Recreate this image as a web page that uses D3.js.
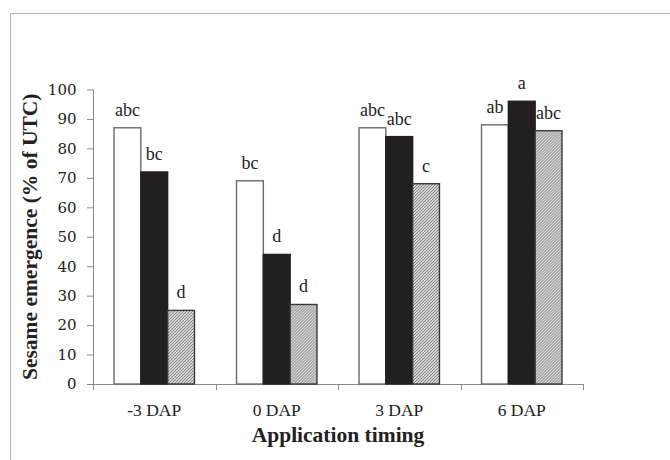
<!DOCTYPE html>
<html>
<head>
<meta charset="utf-8">
<script src="https://cdn.jsdelivr.net/npm/d3@7"></script>
<style>
  body { margin: 0; background: #fff; }
  svg { display: block; }
</style>
</head>
<body>
<svg id="chart" width="670" height="460"></svg>
<script>
// data
var categories = ["-3 DAP", "0 DAP", "3 DAP", "6 DAP"];
var series = ["s1", "s2", "s3"];
var valuesWhite = [87, 69, 87, 88];
var valuesBlack = [72, 44, 84, 96];
var valuesHatch = [25, 27, 68, 86];
var lettersWhite = ["abc", "bc", "abc", "ab"];
var lettersBlack = ["bc", "d", "abc", "a"];
var lettersHatch = ["d", "d", "c", "abc"];
var yTicks = [0, 10, 20, 30, 40, 50, 60, 70, 80, 90, 100];

var svg = d3.select("#chart"),
    width = +svg.attr("width"),
    height = +svg.attr("height");

var plotLeft = 93, plotRight = 583, plotTop = 89.5, plotBottom = 384;

// pattern for the hatched bars
var defs = svg.append("defs");
var pat = defs.append("pattern")
    .attr("id", "hatch")
    .attr("patternUnits", "userSpaceOnUse")
    .attr("width", 3)
    .attr("height", 3);
pat.append("rect").attr("width", 3).attr("height", 3).attr("fill", "#d2d2d2");
pat.append("path")
    .attr("d", "M-1,1 l2,-2 M0,3 l3,-3 M2,4 l2,-2")
    .attr("stroke", "#6e6e6e")
    .attr("stroke-width", 0.75);

// outer frame (cut at right/bottom)
svg.append("path")
    .attr("d", "M10.5,460 V13.5 H670")
    .attr("fill", "none")
    .attr("stroke", "#b4b4b4")
    .attr("stroke-width", 1);

var y = d3.scaleLinear().domain([0, 100]).range([plotBottom, plotTop]);

var x0 = d3.scaleBand().domain(categories).range([plotLeft, plotRight]).padding(0);
var pad = x0.bandwidth() * 0.1716;
var x1 = d3.scaleBand().domain(series).range([pad, x0.bandwidth() - pad]).padding(0);

// rows for every group
var rows = categories.map(function(c, i) {
  return {
    cat: c,
    bars: [
      {key: "s1", value: valuesWhite[i], letter: lettersWhite[i]},
      {key: "s2", value: valuesBlack[i], letter: lettersBlack[i]},
      {key: "s3", value: valuesHatch[i], letter: lettersHatch[i]}
    ]
  };
});

var fills = {s1: "#ffffff", s2: "#231f20", s3: "url(#hatch)"};
var strokes = {s1: "#6a6a6a", s2: "#231f20", s3: "#3a3a3a"};

// y axis
var yAxis = svg.append("g")
    .attr("transform", "translate(" + plotLeft + ",0)")
    .call(d3.axisLeft(y).tickValues(yTicks).tickSize(6).tickPadding(10.5));
yAxis.select(".domain").attr("stroke", "#8c8c8c").attr("d", "M0.5," + plotTop + "V" + (plotBottom + 5));
yAxis.selectAll(".tick line").attr("stroke", "#8c8c8c");
yAxis.selectAll(".tick text")
    .style("font-family", "'DejaVu Serif', serif")
    .style("font-size", "15px")
    .attr("fill", "#222");

// x axis
var xAxis = svg.append("g")
    .attr("transform", "translate(0," + plotBottom + ")")
    .call(d3.axisBottom(x0).tickSize(0));
xAxis.select(".domain").attr("stroke", "#8c8c8c").attr("d", "M" + plotLeft + ",0.5H" + plotRight);
xAxis.selectAll(".tick text")
    .attr("y", 32)
    .attr("dy", 0)
    .style("font-family", "'Liberation Serif', 'Times New Roman', serif")
    .style("font-size", "17.5px")
    .attr("fill", "#222");

// boundary ticks between groups
var edges = categories.map(function(c) { return x0(c); }).concat([plotRight]);
xAxis.selectAll(".edge")
    .data(edges)
    .enter().append("line")
    .attr("class", "edge")
    .attr("x1", function(d) { return Math.round(d) + 0.5; })
    .attr("x2", function(d) { return Math.round(d) + 0.5; })
    .attr("y1", 0)
    .attr("y2", 6)
    .attr("stroke", "#8c8c8c");

// bars
var groups = svg.append("g")
    .selectAll("g")
    .data(rows)
    .enter().append("g")
    .attr("transform", function(d) { return "translate(" + x0(d.cat) + ",0)"; });

groups.selectAll("rect")
    .data(function(d) { return d.bars; })
    .enter().append("rect")
    .attr("x", function(d) { return x1(d.key); })
    .attr("y", function(d) { return y(d.value); })
    .attr("width", x1.bandwidth())
    .attr("height", function(d) { return plotBottom - y(d.value); })
    .attr("fill", function(d) { return fills[d.key]; })
    .attr("stroke", function(d) { return strokes[d.key]; })
    .attr("stroke-width", 1.4);

// significance letters
groups.selectAll("text")
    .data(function(d) { return d.bars; })
    .enter().append("text")
    .attr("x", function(d) { return x1(d.key) + x1.bandwidth() / 2; })
    .attr("y", function(d) { return y(d.value) - 12; })
    .attr("text-anchor", "middle")
    .style("font-family", "'Liberation Serif', 'Times New Roman', serif")
    .style("font-size", "18px")
    .attr("fill", "#222")
    .text(function(d) { return d.letter; });

// axis titles
svg.append("text")
    .attr("transform", "translate(37," + ((plotTop + plotBottom) / 2) + ") rotate(-90)")
    .attr("text-anchor", "middle")
    .style("font-family", "'Liberation Serif', 'Times New Roman', serif")
    .style("font-size", "21.5px")
    .style("font-weight", "bold")
    .attr("fill", "#222")
    .text("Sesame emergence (% of UTC)");

svg.append("text")
    .attr("x", (plotLeft + plotRight) / 2)
    .attr("y", 442)
    .attr("text-anchor", "middle")
    .style("font-family", "'Liberation Serif', 'Times New Roman', serif")
    .style("font-size", "21.5px")
    .style("font-weight", "bold")
    .attr("fill", "#222")
    .text("Application timing");
</script>
</body>
</html>
